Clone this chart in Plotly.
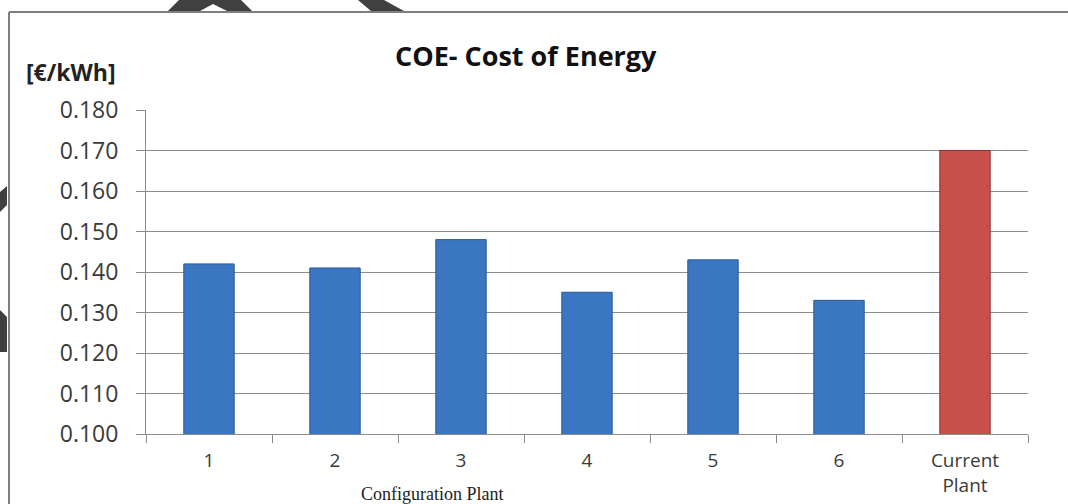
import plotly.graph_objects as go

# ---- data ----
categories = ["1", "2", "3", "4", "5", "6", "Current<br>Plant"]
coe_values = [0.142, 0.141, 0.148, 0.135, 0.143, 0.133, 0.170]
bar_colors = ["#3a76c2"] * 6 + ["#c8504c"]
line_colors = ["#2a5a97"] * 6 + ["#8f3431"]
y_ticks = [0.100, 0.110, 0.120, 0.130, 0.140, 0.150, 0.160, 0.170, 0.180]

W, H = 1068, 504


def px(x, y):
    return x / W, 1 - y / H


def poly(points):
    parts = []
    for i, (x, y) in enumerate(points):
        fx, fy = px(x, y)
        parts.append(("M" if i == 0 else "L") + f"{fx:.5f},{fy:.5f}")
    return " ".join(parts) + " Z"


fig = go.Figure()
fig.add_trace(go.Bar(
    x=categories,
    y=coe_values,
    marker=dict(color=bar_colors, line=dict(color=line_colors, width=1)),
    width=0.4,
    hoverinfo="x+y",
))

x0, y0 = px(146, 434)
x1, y1 = px(1028, 110)

fig.update_layout(
    width=W, height=H, autosize=False,
    margin=dict(l=0, r=0, t=0, b=0),
    paper_bgcolor="white", plot_bgcolor="white",
    showlegend=False,
    font=dict(family="Open Sans", color="#3a3a3a"),
    xaxis=dict(
        domain=[x0, x1], automargin=False,
        type="category",
        showline=True, linecolor="#8c8c8c", linewidth=1,
        ticks="outside", tickson="boundaries", ticklen=8, tickcolor="#8c8c8c",
        ticklabelstandoff=9,
        tickfont=dict(size=19, family="Open Sans", color="#3a3a3a"),
        showgrid=False,
    ),
    yaxis=dict(
        domain=[y0, y1], automargin=False,
        range=[0.100, 0.180],
        tickvals=y_ticks,
        tickformat=".3f",
        showline=True, linecolor="#8c8c8c", linewidth=1,
        ticks="outside", ticklen=9, tickcolor="#8c8c8c",
        ticklabelstandoff=13,
        tickfont=dict(size=23, family="Open Sans", color="#3a3a3a"),
        showgrid=True, gridcolor="#8c8c8c", gridwidth=1,
        zeroline=False,
    ),
)

# title and unit label
tx, ty = px(526, 55)
fig.add_annotation(text="<b>COE- Cost of Energy</b>", x=tx, y=ty, xref="paper", yref="paper",
                   showarrow=False, font=dict(family="Open Sans", size=27, color="#111111"),
                   xanchor="center", yanchor="middle")
ux, uy = px(24, 72)
fig.add_annotation(text="<b>[€/kWh]</b>", x=ux, y=uy, xref="paper", yref="paper",
                   showarrow=False, font=dict(family="Open Sans", size=23, color="#222222"),
                   xanchor="left", yanchor="middle")
cx, cy = px(432, 494)
fig.add_annotation(text="Configuration Plant", x=cx, y=cy, xref="paper", yref="paper",
                   showarrow=False, font=dict(family="Liberation Serif", size=18, color="#222222"),
                   xanchor="center", yanchor="middle")

# outer frame (top and left edges)
bx, by = px(9, 12)
fig.add_shape(type="line", xref="paper", yref="paper", x0=bx, y0=by, x1=1, y1=by,
              line=dict(color="#7f7f7f", width=2))
fig.add_shape(type="line", xref="paper", yref="paper", x0=bx, y0=by, x1=bx, y1=0,
              line=dict(color="#7f7f7f", width=2))

# dark decorative shapes outside the frame
dark = "#404040"
for pts in [
    [(168, 11), (179, 0), (241, 0), (252, 11), (227, 11), (213, 4), (200, 11)],
    [(358, 0), (384, 0), (404, 11), (371, 11)],
    [(0, 192), (7, 186), (7, 205), (0, 212)],
    [(0, 310), (7, 317), (7, 352), (0, 352)],
]:
    fig.add_shape(type="path", xref="paper", yref="paper", path=poly(pts),
                  fillcolor=dark, line=dict(width=0))

fig.write_html("out.html", config={"displayModeBar": False},
               post_script="document.body.style.margin='0';")
